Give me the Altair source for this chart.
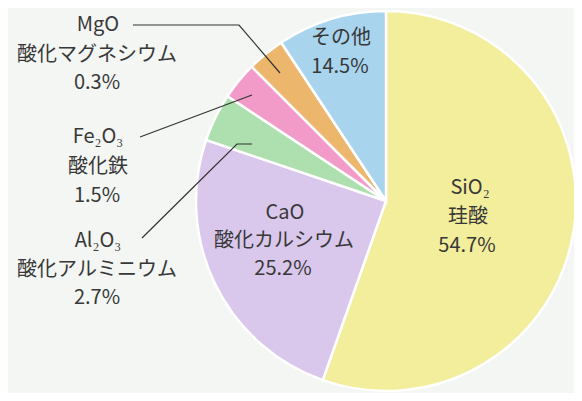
import altair as alt
import pandas as pd

# Slices (clockwise from 12 o'clock)
names = ["SiO₂", "CaO", "Al₂O₃", "Fe₂O₃", "MgO", "その他"]
printed_pct = ["54.7%", "25.2%", "2.7%", "1.5%", "0.3%", "14.5%"]
# slice sizes as drawn in the picture (percent of circle)
drawn_share = [55.4, 24.8, 4.1, 3.2, 3.2, 9.3]
colors = ["#F2EE9C", "#D9C7EC", "#AEDFAE", "#F29BC8", "#ECB66C", "#A8D4EE"]

# label lines (text, x, y) in chart pixels
label_text = [
    "MgO", "酸化マグネシウム", "0.3%",
    "Fe₂O₃", "酸化鉄", "1.5%",
    "Al₂O₃", "酸化アルミニウム", "2.7%",
    "その他", "14.5%",
    "CaO", "酸化カルシウム", "25.2%",
    "SiO₂", "珪酸", "54.7%",
]
label_x = [90, 89, 89, 90, 90, 89, 90, 89, 89, 333, 332, 277, 276, 275, 462, 460, 459]
label_y = [17, 47, 75, 129, 159, 188, 233, 262, 290, 30, 59, 205, 233, 261, 180, 209, 238]

# leader lines
leader_id = ["mg", "mg", "mg", "fe", "fe", "al", "al", "al"]
leader_x = [125, 231, 272, 132, 244, 134, 229, 244]
leader_y = [17, 17, 65, 129, 87, 230, 136, 136]

W, H = 566, 385
CX, CY, R = 378, 193, 190

pie_df = pd.DataFrame({"name": names, "share": drawn_share, "order": list(range(len(names)))})
lab_df = pd.DataFrame({"text": label_text, "x": label_x, "y": label_y})
lead_df = pd.DataFrame({"id": leader_id, "x": leader_x, "y": leader_y, "k": list(range(len(leader_id)))})

xs = alt.Scale(domain=[0, W], range=[0, W])
ys = alt.Scale(domain=[0, H], range=[0, H])

pie = alt.Chart(pie_df).mark_arc(outerRadius=R, stroke="white", strokeWidth=2.5).encode(
    theta=alt.Theta("share:Q", stack=True),
    order=alt.Order("order:Q"),
    color=alt.Color("name:N", scale=alt.Scale(domain=names, range=colors), legend=None),
    x=alt.value(CX),
    y=alt.value(CY),
)

lines = alt.Chart(lead_df).mark_line(color="#333333", strokeWidth=1.2).encode(
    x=alt.X("x:Q", scale=xs, axis=None),
    y=alt.Y("y:Q", scale=ys, axis=None),
    detail="id:N",
    order="k:Q",
)

texts = alt.Chart(lab_df).mark_text(
    font="Noto Sans CJK JP", fontSize=20, color="#383838", align="center", baseline="middle"
).encode(
    x=alt.X("x:Q", scale=xs, axis=None),
    y=alt.Y("y:Q", scale=ys, axis=None),
    text="text:N",
)

chart = alt.layer(pie, lines, texts).properties(
    width=W, height=H, padding=0, autosize=alt.AutoSizeParams(type="none"),
    background="#F4F6F3",
).configure_view(stroke=None)

chart.save("out.html", embed_options={"renderer": "svg", "actions": False})
